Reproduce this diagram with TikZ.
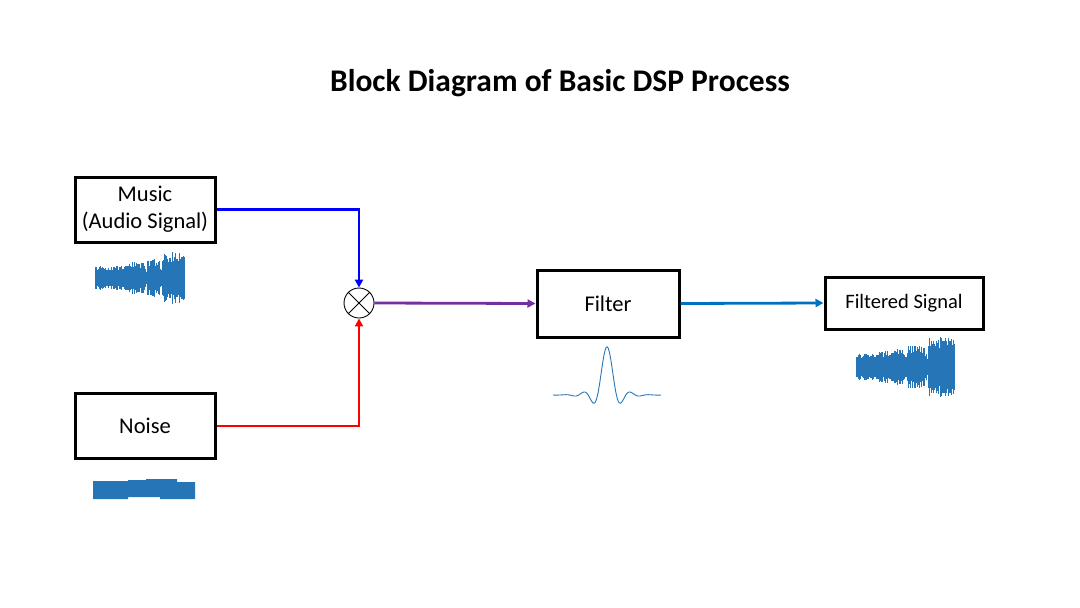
\documentclass[tikz,border=0pt]{standalone}
\usepackage{fontspec}
\setmainfont{Carlito}
\usepackage{xcolor}
\usetikzlibrary{positioning, arrows.meta}

\definecolor{wavecol}{RGB}{38,118,183}
\definecolor{mixcol}{RGB}{112,48,160}
\definecolor{outcol}{RGB}{0,112,192}

\begin{document}
\begin{tikzpicture}[x=1pt, y=-1pt, >={Triangle[length=8pt, width=8pt]},
    block/.style={draw, line width=3pt, minimum width=140pt, minimum height=65pt, align=center, font=\fontsize{22.5}{27}\selectfont},
    wire/.style={->, line width=2.8pt},
    wave/.style={wavecol, line width=1.1pt}]
    \useasboundingbox (0,0) rectangle (1080,608);

    \node[font=\bfseries\fontsize{31.5}{36}\selectfont] (title) at (560,83) {Block Diagram of Basic DSP Process};

    \node[block] (music) at (145,209.5) {Music\\(Audio Signal)};
    \node[block] (noise) at (145,426) {Noise};
    \node[draw, circle, line width=0.9pt, minimum size=30pt, inner sep=0pt] (mix) at (359,303) {};
    \draw[line width=0.9pt] (mix.north west) -- (mix.south east) (mix.north east) -- (mix.south west);
    \node[block, minimum width=142pt, minimum height=67pt] (filter) at (608,303.5) {Filter};
    \node[block, minimum width=158pt, minimum height=52pt, font=\fontsize{20.5}{24}\selectfont] (out) at (904,303) {\raisebox{-4pt}{Filtered Signal}};

    \draw[wire, blue] (music.east) -| (mix.north);
    \draw[wire, red] (noise.east) -| (mix.south);
    \draw[wire, mixcol] (mix.east) -- (filter.west);
    \draw[wire, outcol] (filter.east) -- (out.west);

    % music waveform
    \pgfmathsetseed{7}
    \foreach \xa/\xb/\amp in {96/128/12, 128/145/16, 145/148/9, 148/160/19, 160/163/10, 163/185/26}
        \foreach \x in {\xa,\xa.7,...,\xb} {
            \pgfmathsetmacro\h{\amp*(0.6+0.4*rnd)}
            \draw[wave] (\x,278-\h) -- (\x,278+\h);
        }

    % filtered waveform
    \foreach \xa/\xb/\amp in {857/875/14, 875/893/16, 893/905/18, 905/908/11, 908/925/21, 925/929/13, 929/955/30}
        \foreach \x in {\xa,\xa.7,...,\xb} {
            \pgfmathsetmacro\h{\amp*(0.6+0.4*rnd)}
            \draw[wave] (\x,367-\h) -- (\x,367+\h);
        }

    % noise band
    \fill[wavecol] (93,481) -- (128,481) -- (128,480) -- (146,480) -- (146,479) -- (177,479) -- (177,482) -- (195,482)
        -- (195,499) -- (160,499) -- (160,497) -- (128,497) -- (128,499) -- (93,499) -- cycle;

    % filter impulse response
    \draw[wavecol, line width=0.9pt] plot[domain=-18:18, samples=241, smooth]
        ({607+3*(\x)}, {395-48*sin((\x) r)/(\x)*exp(-((\x)*(\x))/81)});
\end{tikzpicture}
\end{document}
